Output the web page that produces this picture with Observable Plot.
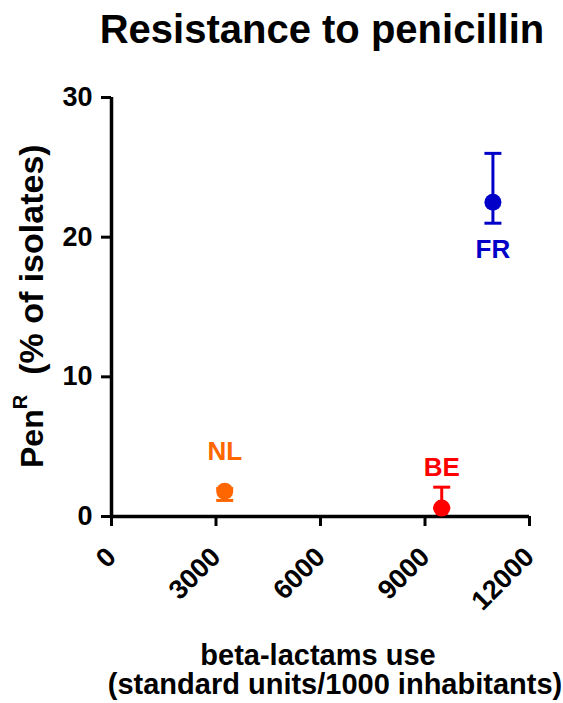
<!DOCTYPE html>
<html><head><meta charset="utf-8">
<script src="https://cdn.jsdelivr.net/npm/d3@7"></script>
<script src="https://cdn.jsdelivr.net/npm/@observablehq/plot@0.6"></script>
<style>
body{margin:0;background:#fff;}
svg{font-family:"Liberation Sans",Arial,Helvetica,sans-serif;}
</style>
</head><body><div id="chart"></div>
<script>
// ---- data ----
const countries = ["NL", "BE", "FR"];
const betaLactamUse = [3250, 9480, 10950];
const penR = [1.8, 0.6, 22.5];
const errLow = [1.15, 0.6, 21.0];
const errHigh = [2.0, 2.1, 26.0];
const colors = ["#ff6600", "#ff0000", "#0000c8"];
const labelBelow = ["FR"];
const xTicks = [0, 3000, 6000, 9000, 12000];
const yTicks = [0, 10, 20, 30];
const title = "Resistance to penicillin";
const xLabelLines = ["beta-lactams use", "(standard units/1000 inhabitants)"];
const yLabelMain = "Pen", yLabelSup = "R", yLabelRest = "(% of isolates)";

const data = countries.map((c, i) => ({country: c, x: betaLactamUse[i], y: penR[i], lo: errLow[i], hi: errHigh[i]}));
const caps = data.flatMap(d => [{country: d.country, x: d.x, y: d.lo}, {country: d.country, x: d.x, y: d.hi}]);
const hline = {draw(ctx, size) { const r = Math.sqrt(size / Math.PI); ctx.moveTo(-r, 0); ctx.lineTo(r, 0); }};

const W = 563, H = 703;
const plot = Plot.plot({
  width: W, height: H,
  marginLeft: 111, marginRight: 34, marginTop: 97, marginBottom: 187,
  style: {background: "white", fontFamily: "'Liberation Sans', Arial, sans-serif", color: "black"},
  x: {domain: [0, 12000]},
  y: {domain: [0, 30]},
  color: {domain: countries, range: colors},
  marks: [
    Plot.axisY({ticks: yTicks, tickSize: 10, tickPadding: 9, strokeWidth: 3, fontSize: 27, fontWeight: "bold", label: null, tickFormat: d => String(d)}),
    Plot.axisX({ticks: xTicks, tickSize: 10, tickPadding: 26, tickRotate: -45, strokeWidth: 3, fontSize: 27, fontWeight: "bold", label: null, tickFormat: d => String(d)}),
    Plot.ruleY([0], {strokeWidth: 3.5}),
    Plot.ruleX([0], {strokeWidth: 3.5}),
    Plot.ruleX(data, {x: "x", y1: "lo", y2: "hi", stroke: "country", strokeWidth: 3}),
    Plot.dot(caps, {x: "x", y: "y", symbol: hline, r: 8.5, stroke: "country", strokeWidth: 3}),
    Plot.dot(data, {x: "x", y: "y", r: 8.5, fill: "country"}),
    Plot.text(data.filter(d => !labelBelow.includes(d.country)), {x: "x", y: "y", text: "country", fill: "country", dy: -40, fontSize: 26, fontWeight: "bold"}),
    Plot.text(data.filter(d => labelBelow.includes(d.country)), {x: "x", y: "y", text: "country", fill: "country", dy: 47, fontSize: 26, fontWeight: "bold"})
  ]
});
document.getElementById("chart").append(plot);

const svg = d3.select(plot);
svg.append("text").attr("x", 322).attr("y", 43).attr("text-anchor", "middle")
  .attr("font-size", 40).attr("font-weight", "bold").attr("fill", "black").text(title);
svg.append("text").attr("x", 318).attr("y", 665).attr("text-anchor", "middle")
  .attr("font-size", 29).attr("font-weight", "bold").attr("fill", "black").text(xLabelLines[0]);
svg.append("text").attr("x", 335).attr("y", 694).attr("text-anchor", "middle")
  .attr("font-size", 29).attr("font-weight", "bold").attr("fill", "black").text(xLabelLines[1]);
const yl = svg.append("text").attr("transform", "translate(43,468) rotate(-90)")
  .attr("text-anchor", "start")
  .attr("font-size", 32).attr("font-weight", "bold").attr("fill", "black");
yl.append("tspan").text(yLabelMain);
yl.append("tspan").attr("font-size", 20).attr("dy", -16).text(yLabelSup);
yl.append("tspan").attr("font-size", 34).attr("dy", 16).attr("dx", 20).text(yLabelRest);
</script>
</body></html>
